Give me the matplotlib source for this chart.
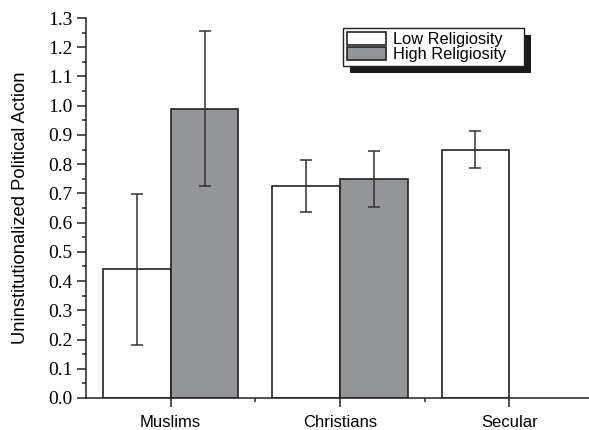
import matplotlib
matplotlib.use('Agg')
import matplotlib.pyplot as plt
import numpy as np
from matplotlib.patches import Rectangle
from matplotlib.ticker import MultipleLocator

plt.rcParams['font.serif'] = ['Liberation Serif', 'DejaVu Serif']
plt.rcParams['font.sans-serif'] = ['Liberation Sans', 'DejaVu Sans']

# data
groups = ['Muslims', 'Christians', 'Secular']
low_vals = [0.44, 0.725, 0.85]
low_err = [0.257, 0.088, 0.063]
high_vals = [0.99, 0.75]
high_err = [0.265, 0.095]
yticks = np.round(np.arange(0, 1.31, 0.1), 1)

fig = plt.figure(figsize=(5.89, 4.30), dpi=100)
ax = fig.add_axes([86/589, 32/430, (594-86)/589, (398-18)/430])

x = np.arange(len(groups))
w = 0.4
ekw = dict(ecolor='#333333', elinewidth=1.1, capsize=4, capthick=1.1)
ax.bar(x - w/2, low_vals, w, color='white', edgecolor='#222222', linewidth=1.2,
       yerr=low_err, error_kw=ekw, label='Low Religiosity')
ax.bar(x[:2] + w/2, high_vals, w, color='#939598', edgecolor='#222222', linewidth=1.2,
       yerr=high_err, error_kw=ekw, label='High Religiosity')

ax.set_xlim(-0.5, 2.5)
ax.set_ylim(0, 1.3)
ax.set_yticks(yticks)
ax.set_yticklabels([f'{v:.1f}' for v in yticks])
ax.yaxis.set_minor_locator(MultipleLocator(0.05))
ax.set_xticks(x)
ax.set_xticklabels(groups)
ax.set_xticks([0.5, 1.5], minor=True)
ax.tick_params(axis='x', labelsize=12)
ax.tick_params(axis='both', which='major', direction='out', length=6.5, width=1.1, color='#222222')
ax.tick_params(axis='both', which='minor', direction='out', length=3, width=1.1, color='#222222')
ax.tick_params(axis='x', which='major', pad=6)
ax.tick_params(axis='y', which='major', pad=3)
for t in ax.get_yticklabels():
    t.set_fontfamily(['Liberation Serif', 'DejaVu Serif'])
    t.set_fontsize(14)
for t in ax.get_xticklabels():
    t.set_fontfamily(['Liberation Sans', 'DejaVu Sans'])
for s in ['top', 'right']:
    ax.spines[s].set_visible(False)
for s in ['left', 'bottom']:
    ax.spines[s].set_linewidth(1.1)
    ax.spines[s].set_color('#222222')

ax.set_ylabel('Uninstitutionalized Political Action', family=['Liberation Sans', 'DejaVu Sans'], fontsize=13.2)
ax.yaxis.set_label_coords(-(86 - 29) / 508, 0.5)

leg = ax.legend(loc='upper left', bbox_to_anchor=((343-86)/508, (398-28)/380), frameon=False,
                prop={'family': ['Liberation Sans', 'DejaVu Sans'], 'size': 11.8}, handlelength=2.4, handleheight=0.8,
                borderpad=0.25, labelspacing=0.0, handletextpad=0.4, borderaxespad=0)
leg.set_zorder(6)

fig.canvas.draw()
bb = leg.get_window_extent()
extra = 14
shadow = Rectangle((bb.x0 + 7, bb.y0 - 7), bb.width + extra, bb.height, transform=None,
                   facecolor='#1a1a1a', edgecolor='none', zorder=4, clip_on=False)
frame = Rectangle((bb.x0, bb.y0), bb.width + extra, bb.height, transform=None,
                  facecolor='white', edgecolor='#222222', linewidth=1.0, zorder=5, clip_on=False)
ax.add_patch(shadow)
ax.add_patch(frame)

fig.savefig('out.png', dpi=100)
